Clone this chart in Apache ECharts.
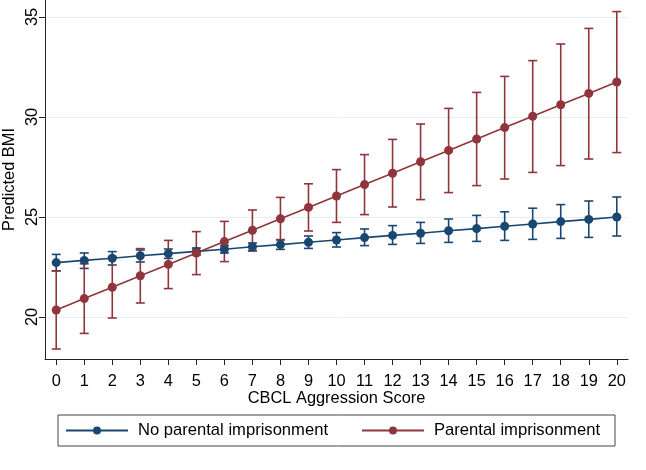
<!DOCTYPE html>
<html>
<head>
<meta charset="utf-8">
<script src="https://cdn.jsdelivr.net/npm/echarts@6/dist/echarts.min.js"></script>
<style>
  html, body { margin: 0; padding: 0; background: #fff; }
  #chart { width: 646px; height: 470px; }
</style>
</head>
<body>
<div id="chart"></div>
<script>
const aggressionScores = [0, 1, 2, 3, 4, 5, 6, 7, 8, 9, 10, 11, 12, 13, 14, 15, 16, 17, 18, 19, 20];

const noPrisonMean = [22.72, 22.83, 22.94, 23.06, 23.17, 23.28, 23.39, 23.51, 23.62, 23.74, 23.85, 23.97, 24.08, 24.19, 24.31, 24.42, 24.54, 24.65, 24.77, 24.88, 25.0];
const noPrisonLow = [22.31, 22.43, 22.6, 22.75, 22.93, 23.1, 23.2, 23.3, 23.38, 23.43, 23.5, 23.57, 23.63, 23.68, 23.73, 23.78, 23.83, 23.88, 23.93, 23.98, 24.05];
const noPrisonHigh = [23.13, 23.2, 23.27, 23.35, 23.4, 23.45, 23.57, 23.7, 23.87, 24.05, 24.22, 24.4, 24.57, 24.73, 24.9, 25.08, 25.26, 25.44, 25.62, 25.8, 26.0];

const prisonMean = [20.35, 20.92, 21.49, 22.06, 22.63, 23.2, 23.77, 24.34, 24.91, 25.48, 26.05, 26.62, 27.19, 27.76, 28.33, 28.9, 29.47, 30.04, 30.61, 31.18, 31.75];
const prisonLow = [18.4, 19.18, 19.95, 20.7, 21.42, 22.12, 22.77, 23.33, 23.85, 24.3, 24.73, 25.12, 25.5, 25.87, 26.22, 26.57, 26.9, 27.23, 27.57, 27.9, 28.22];
const prisonHigh = [22.3, 22.66, 23.03, 23.42, 23.83, 24.27, 24.78, 25.35, 25.98, 26.66, 27.37, 28.12, 28.88, 29.65, 30.43, 31.23, 32.03, 32.82, 33.65, 34.43, 35.27];

const yTicks = [20, 25, 30, 35];
const seriesNames = ["No parental imprisonment", "Parental imprisonment"];

const NAVY = "#1a476f";
const MAROON = "#90353b";
const FONT = "Liberation Sans, Arial, sans-serif";

// vertical CI bars with caps, drawn through the axis scales
function errorBars(id, color, low, high) {
  return {
    id: id,
    name: id,
    type: "custom",
    z: 2,
    silent: true,
    data: aggressionScores.map((x, i) => [x, low[i], high[i]]),
    renderItem(params, api) {
      const lo = api.coord([api.value(0), api.value(1)]);
      const hi = api.coord([api.value(0), api.value(2)]);
      const cap = 4.5;
      const style = { stroke: color, lineWidth: 1.6 };
      return {
        type: "group",
        children: [
          { type: "line", shape: { x1: lo[0], y1: lo[1], x2: hi[0], y2: hi[1] }, style },
          { type: "line", shape: { x1: lo[0] - cap, y1: lo[1], x2: lo[0] + cap, y2: lo[1] }, style },
          { type: "line", shape: { x1: hi[0] - cap, y1: hi[1], x2: hi[0] + cap, y2: hi[1] }, style },
        ],
      };
    },
  };
}

function meanLine(name, color, values) {
  return {
    name: name,
    type: "line",
    z: 3,
    symbol: "circle",
    symbolSize: 9,
    showAllSymbol: true,
    lineStyle: { color: color, width: 1.6 },
    itemStyle: { color: color },
    data: aggressionScores.map((x, i) => [x, values[i]]),
  };
}

const chart = echarts.init(document.getElementById("chart"));
chart.setOption({
  animation: false,
  backgroundColor: "#fff",
  textStyle: { fontFamily: FONT, color: "#000" },
  grid: { left: 45, right: 18, top: 0, bottom: 111, containLabel: false, outerBoundsMode: "none" },
  legend: {
    data: seriesNames,
    left: 58,
    top: 415,
    orient: "horizontal",
    padding: [7, 15, 7, 7],
    itemWidth: 62,
    itemHeight: 10,
    itemGap: 33,
    borderColor: "#444",
    borderWidth: 1,
    textStyle: { fontFamily: FONT, fontSize: 16.6, color: "#000", lineHeight: 16, padding: [0, 0, 0, 5] },
  },
  xAxis: {
    type: "value",
    min: -0.4,
    max: 20.4,
    name: "CBCL Aggression Score",
    nameLocation: "middle",
    nameGap: 31,
    nameMoveOverlap: false,
    nameTextStyle: { fontFamily: FONT, fontSize: 16.4, color: "#000" },
    axisLine: { onZero: false, lineStyle: { color: "#222", width: 1 } },
    axisTick: { show: true, length: 6, lineStyle: { color: "#222" }, customValues: aggressionScores },
    axisLabel: { customValues: aggressionScores, fontFamily: FONT, fontSize: 16.4, color: "#000", margin: 14 },
    splitLine: { show: false },
  },
  yAxis: {
    type: "value",
    min: 17.9,
    max: 35.85,
    name: "Predicted BMI",
    nameLocation: "middle",
    nameGap: 28,
    nameMoveOverlap: false,
    nameTextStyle: { fontFamily: FONT, fontSize: 16.4, color: "#000" },
    axisLine: { show: true, onZero: false, lineStyle: { color: "#222", width: 1 } },
    axisTick: { show: true, length: 6, lineStyle: { color: "#222" }, customValues: yTicks },
    axisLabel: { customValues: yTicks, rotate: 90, fontFamily: FONT, fontSize: 16.4, color: "#000", margin: 5 },
    splitLine: { show: true, lineStyle: { color: "#e6eff2", width: 1 } },
  },
  series: [
    errorBars("noPrisonCI", NAVY, noPrisonLow, noPrisonHigh),
    errorBars("prisonCI", MAROON, prisonLow, prisonHigh),
    meanLine(seriesNames[0], NAVY, noPrisonMean),
    meanLine(seriesNames[1], MAROON, prisonMean),
  ],
});
</script>
</body>
</html>
